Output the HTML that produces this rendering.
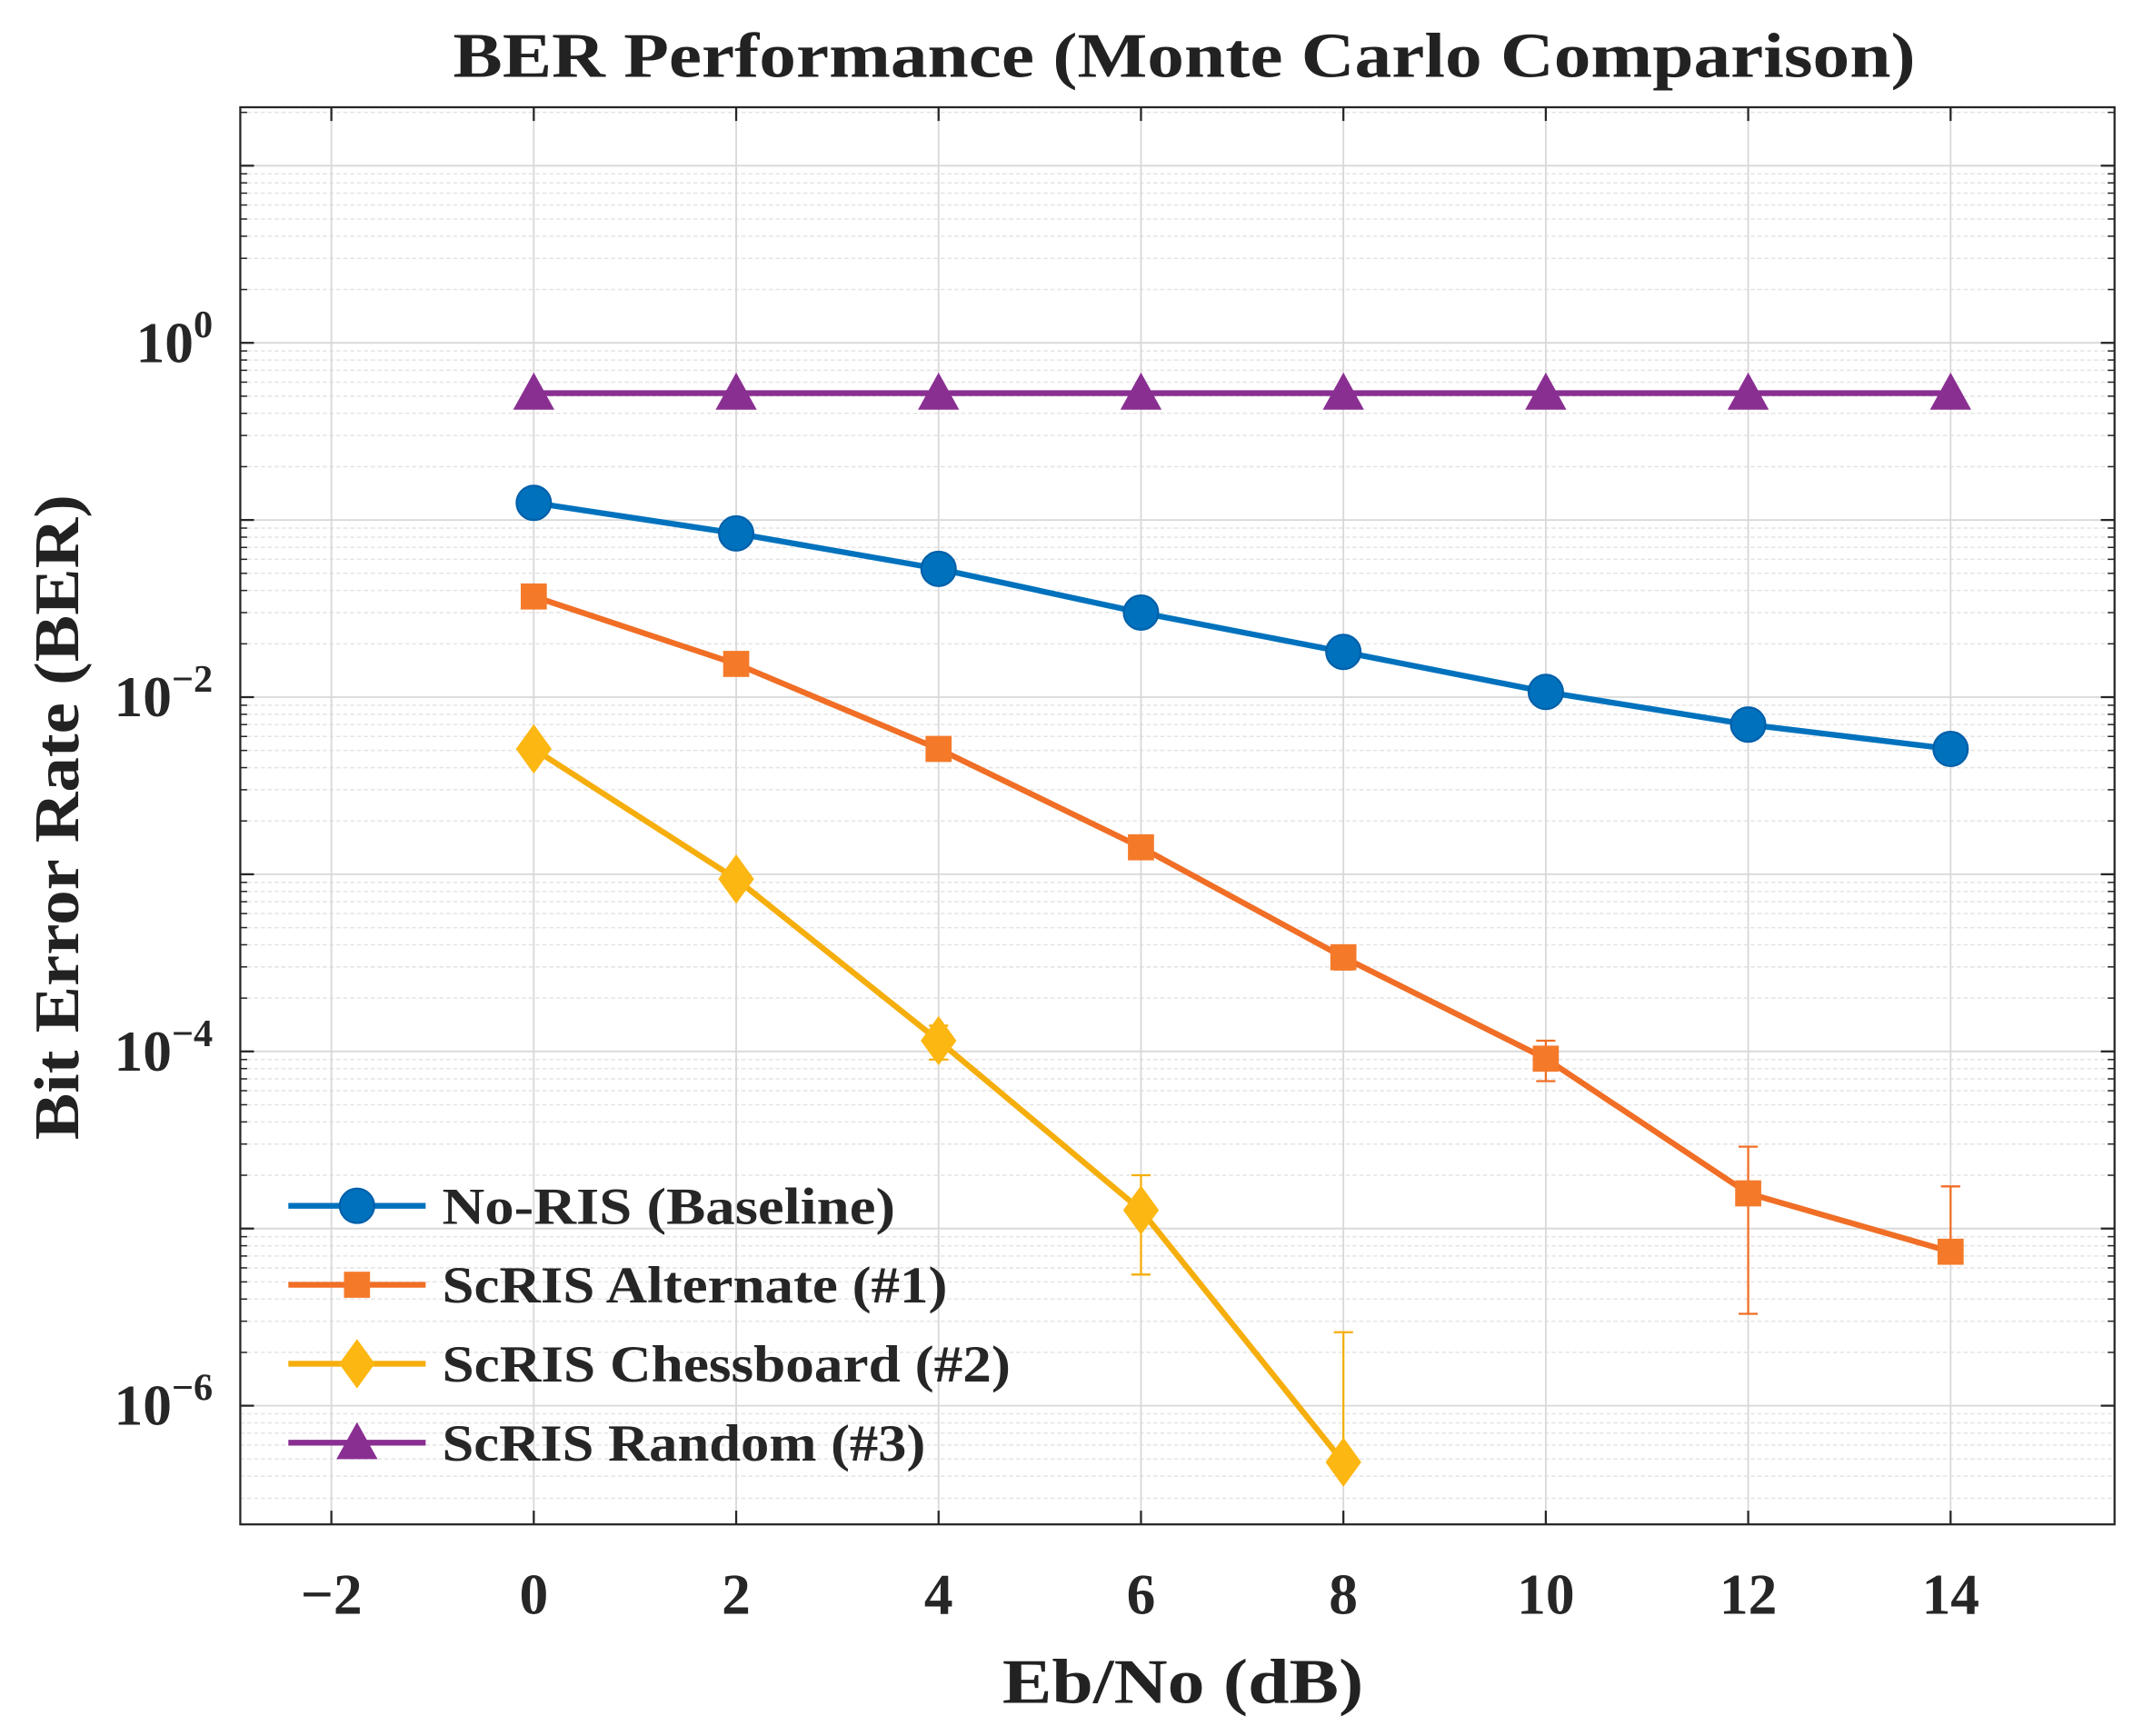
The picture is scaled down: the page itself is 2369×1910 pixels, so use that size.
<!DOCTYPE html>
<html><head><meta charset="utf-8"><style>html,body{margin:0;padding:0;background:#fff}svg{display:block}</style></head>
<body>
<svg id="chart" width="2369" height="1910" viewBox="0 0 1568 1264" xmlns="http://www.w3.org/2000/svg" font-family="'Liberation Serif', serif" font-weight="bold">
<rect width="1568" height="1264" fill="#fff"/>
<g id="grid"></g><g id="series"></g><g id="axes"></g><g id="legend"></g>
<text x="330" y="56" font-size="46" fill="#222" textLength="1065" lengthAdjust="spacingAndGlyphs">BER Performance (Monte Carlo Comparison)</text>
<text x="730" y="1240" font-size="46" fill="#222" textLength="263" lengthAdjust="spacingAndGlyphs">Eb/No (dB)</text>
<text transform="translate(57,830) rotate(-90)" font-size="46" fill="#222" textLength="470" lengthAdjust="spacingAndGlyphs">Bit Error Rate (BER)</text>
</svg>
<script>
const xs=[0,2,4,6,8,10,12,14];
const noRis=[0.125,0.084,0.053,0.030,0.018,0.0107,0.0070,0.0051];
const alt=[0.037,0.0154,0.0051,0.00142,3.4e-4,9.1e-5,1.58e-5,7.4e-6];
const altLo=[0.036,0.0150,0.0050,0.00138,2.9e-4,6.8e-5,3.3e-6,7.4e-6];
const altHi=[0.038,0.0158,0.0052,0.00146,3.9e-4,1.15e-4,2.9e-5,1.73e-5];
const chessX=[0,2,4,6,8];
const chess=[0.0051,9.4e-4,1.15e-4,1.27e-5,4.8e-7];
const chessLo=[0.0050,9.1e-4,9e-5,5.5e-6,4.8e-7];
const chessHi=[0.0052,9.7e-4,1.4e-4,2e-5,2.6e-6];
const rnd=[0.52,0.52,0.52,0.52,0.52,0.52,0.52,0.52];
const xTicks=[-2,0,2,4,6,8,10,12,14];
const yTickExp=[0,-2,-4,-6];
const L=175,R=1540,T=78,B=1110;
const xMin=-2.9,xMax=15.62,yMax=1.33,yMin=-6.67;
const X=v=>L+(v-xMin)/(xMax-xMin)*(R-L);
const Y=v=>T+(yMax-Math.log10(v))/(yMax-yMin)*(B-T);
const NS='http://www.w3.org/2000/svg';
function mk(tag,attrs,parent){const e=document.createElementNS(NS,tag);for(const k in attrs)e.setAttribute(k,attrs[k]);parent.appendChild(e);return e;}
const grid=document.getElementById('grid'),axes=document.getElementById('axes'),ser=document.getElementById('series'),leg=document.getElementById('legend');
for(let d=-7;d<=1;d++){for(let m=2;m<=9;m++){const v=m*Math.pow(10,d);const ly=Math.log10(v);if(ly<yMin||ly>yMax)continue;const l=mk('line',{x1:L,x2:R,y1:Y(v),y2:Y(v),stroke:'#e4e4e4','stroke-width':1,'stroke-dasharray':'3,2'},grid);}}
for(let d=-6;d<=1;d++){const l=mk('line',{x1:L,x2:R,y1:Y(Math.pow(10,d)),y2:Y(Math.pow(10,d)),stroke:'#d8d8d8','stroke-width':1.2},grid);}
xTicks.forEach(t=>{const l=mk('line',{x1:X(t),x2:X(t),y1:T,y2:B,stroke:'#d8d8d8','stroke-width':1.2},grid);});
const box=mk('rect',{x:L,y:T,width:R-L,height:B-T,fill:'none',stroke:'#262626','stroke-width':1.5},axes);

xTicks.forEach(t=>{mk('line',{x1:X(t),x2:X(t),y1:B,y2:B-10,stroke:'#262626','stroke-width':1.5},axes);mk('line',{x1:X(t),x2:X(t),y1:T,y2:T+10,stroke:'#262626','stroke-width':1.5},axes);
const tx=mk('text',{x:X(t),y:B+65,'text-anchor':'middle','font-size':42,fill:'#262626'},axes);tx.textContent=t<0?'\u2212'+(-t):String(t);});
for(let d=-6;d<=1;d++){const y=Y(Math.pow(10,d));mk('line',{x1:L,x2:L+10,y1:y,y2:y,stroke:'#262626','stroke-width':1.5},axes);mk('line',{x1:R,x2:R-10,y1:y,y2:y,stroke:'#262626','stroke-width':1.5},axes);
for(let m=2;m<=9;m++){const v=m*Math.pow(10,d);if(Math.log10(v)>yMax)continue;const yy=Y(v);mk('line',{x1:L,x2:L+5,y1:yy,y2:yy,stroke:'#262626','stroke-width':1},axes);mk('line',{x1:R,x2:R-5,y1:yy,y2:yy,stroke:'#262626','stroke-width':1},axes);}}
yTickExp.forEach(e=>{const tx=mk('text',{x:L-20,y:Y(Math.pow(10,e))+14,'text-anchor':'end','font-size':42,fill:'#262626'},axes);

tx.appendChild(document.createTextNode('10'));const s=mk('tspan',{dy:-18,'font-size':28},tx);s.textContent=e===0?'0':'\u2212'+(-e);});
function marker(type,cx,cy,color,parent,name){let e;
if(type==='circle')e=mk('circle',{cx,cy,r:12.5,fill:color,stroke:'#0060aa','stroke-width':1.5},parent);
else if(type==='square')e=mk('rect',{x:cx-9.5,y:cy-9.5,width:19,height:19,fill:color},parent);
else if(type==='diamond')e=mk('polygon',{points:`${cx},${cy-18} ${cx+13},${cy} ${cx},${cy+18} ${cx-13},${cy}`,fill:color},parent);
else e=mk('polygon',{points:`${cx},${cy-15} ${cx+15},${cy+12} ${cx-15},${cy+12}`,fill:color},parent);
return e;}
function series(xv,yv,lo,hi,color,mcolor,type,name){const g=mk('g',{},ser);
if(lo){xv.forEach((x,i)=>{const a=Y(lo[i]),b=Y(hi[i]),cx=X(x);mk('line',{x1:cx,x2:cx,y1:a,y2:b,stroke:color,'stroke-width':1.5},g);mk('line',{x1:cx-7,x2:cx+7,y1:a,y2:a,stroke:color,'stroke-width':1.5},g);mk('line',{x1:cx-7,x2:cx+7,y1:b,y2:b,stroke:color,'stroke-width':1.5},g);});}
const p=mk('polyline',{points:xv.map((x,i)=>X(x)+','+Y(yv[i])).join(' '),fill:'none',stroke:color,'stroke-width':4.2},g);
xv.forEach((x,i)=>marker(type,X(x),Y(yv[i]),mcolor,g,name+'-marker'));}
series(xs,noRis,null,null,'#0072bd','#0072bd','circle','no-ris');
series(xs,alt,altLo,altHi,'#f06e25','#f47a2a','square','scris-alternate');
series(chessX,chess,chessLo,chessHi,'#f5ae0c','#fcb712','diamond','scris-chessboard');
series(xs,rnd,null,null,'#8a2f92','#8a2f92','triangle','scris-random');
const items=[['No-RIS (Baseline)','#0072bd','#0072bd','circle',330],['ScRIS Alternate (#1)','#f06e25','#f47a2a','square',368],['ScRIS Chessboard (#2)','#f5ae0c','#fcb712','diamond',414],['ScRIS Random (#3)','#8a2f92','#8a2f92','triangle',352]];
items.forEach((it,i)=>{const y=878+i*57.5;const g=mk('g',{},leg);
mk('line',{x1:210,x2:310,y1:y,y2:y,stroke:it[1],'stroke-width':4.2},g);marker(it[3],260,y,it[2],g,'legend-marker');
const t=mk('text',{x:322,y:y+13,'font-size':38,fill:'#262626',textLength:it[4],lengthAdjust:'spacingAndGlyphs'},g);t.textContent=it[0];});
</script>
</body></html>
